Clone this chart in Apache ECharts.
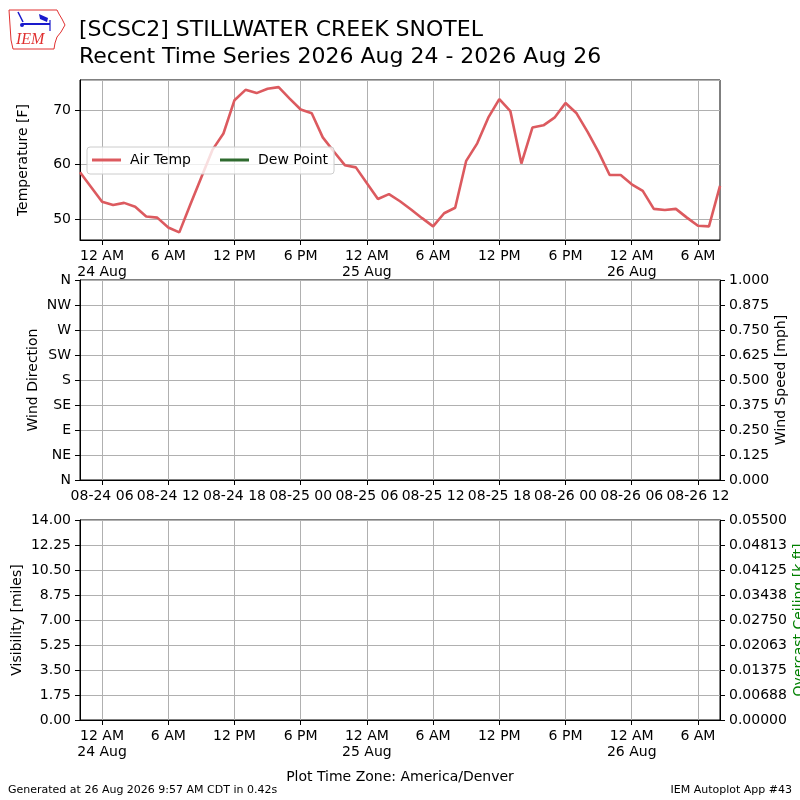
<!DOCTYPE html>
<html><head><meta charset="utf-8">
<script src="https://cdn.jsdelivr.net/npm/echarts@6/dist/echarts.min.js"></script>
<style>html,body{margin:0;padding:0;background:#fff}#c{width:800px;height:800px}</style>
</head><body><div id="c"></div>
<script>
// ---- data ----
// hourly observation times (local, America/Denver), 2026-08-23 22:00 .. 2026-08-26 08:00
const startTime = Date.UTC(2026, 7, 23, 22);
const hourCount = 59;
const times = [];
for (let i = 0; i < hourCount; i++) {
  const d = new Date(startTime + i * 3600e3);
  const p = n => String(n).padStart(2, '0');
  times.push(d.getUTCFullYear() + '-' + p(d.getUTCMonth() + 1) + '-' + p(d.getUTCDate()) + ' ' + p(d.getUTCHours()) + ':00');
}
const airTemp = [
  58.6, 55.9,
  53.2, 52.6, 53.0, 52.3, 50.5, 50.3, 48.5, 47.6, 52.7, 57.7, 62.7, 65.7,
  71.8, 73.7, 73.1, 73.9, 74.2, 72.1, 70.1, 69.4, 65.0, 62.4, 59.9, 59.5,
  56.6, 53.7, 54.6, 53.3, 51.8, 50.2, 48.7, 51.1, 52.1, 60.7, 63.9, 68.6,
  72.0, 69.8, 60.2, 66.8, 67.2, 68.6, 71.3, 69.4, 66.0, 62.3, 58.1, 58.1,
  56.4, 55.2, 51.9, 51.7, 51.9, 50.3, 48.8, 48.7, 56.1
];
const dewPoint = [];
const windDirLabels = ['N', 'NE', 'E', 'SE', 'S', 'SW', 'W', 'NW', 'N'];

// ---- helpers ----
const FONT = 'DejaVu Sans';
const hourOf = v => +v.slice(11, 13);
const every6 = (idx, v) => hourOf(v) % 6 === 0;
function localFmt(v) {
  const h = hourOf(v), d = +v.slice(8, 10);
  if (h === 0) return '12 AM\n' + d + ' Aug';
  if (h === 6) return '6 AM';
  if (h === 12) return '12 PM';
  if (h === 18) return '6 PM';
  return '';
}
function utcFmt(v) {
  const t = Date.UTC(+v.slice(0, 4), +v.slice(5, 7) - 1, +v.slice(8, 10), hourOf(v) + 6);
  const d = new Date(t);
  const p = n => String(n).padStart(2, '0');
  return p(d.getUTCMonth() + 1) + '-' + p(d.getUTCDate()) + ' ' + p(d.getUTCHours());
}
const gridLine = { show: true, interval: every6, lineStyle: { color: '#b0b0b0', width: 1 } };
const ySplit = { show: true, lineStyle: { color: '#b0b0b0', width: 1 } };
const axLine = { show: true, lineStyle: { color: '#000', width: 1 } };
const tick = { show: true, length: 5, lineStyle: { color: '#000', width: 1 } };
const lbl = { color: '#000', fontSize: 14, fontFamily: FONT };

function xAxis(gi, fmt) {
  return {
    type: 'category', gridIndex: gi, data: times, boundaryGap: false,
    axisLine: axLine,
    axisTick: Object.assign({ interval: every6 }, tick),
    axisLabel: Object.assign({ interval: every6, formatter: fmt, margin: 8, lineHeight: 16 }, lbl),
    splitLine: gridLine
  };
}
function yName(name, gap, color) {
  return {
    name: name, nameLocation: 'middle', nameGap: gap, nameRotate: 90, nameMoveOverlap: false,
    nameTextStyle: { color: color || '#000', fontSize: 14, fontFamily: FONT }
  };
}

const chart = echarts.init(document.getElementById('c'));
const gridBase = { left: 80, right: 80, show: true, borderColor: '#000', borderWidth: 1, backgroundColor: 'transparent', containLabel: false, outerBoundsMode: 'none' };

chart.setOption({
  animation: false,
  textStyle: { fontFamily: FONT },
  title: [
    { text: '[SCSC2] STILLWATER CREEK SNOTEL\nRecent Time Series 2026 Aug 24 - 2026 Aug 26',
      left: 74, top: 12, textStyle: { fontSize: 22, fontWeight: 'normal', color: '#000', lineHeight: 27, fontFamily: FONT } },
    { text: 'Plot Time Zone: America/Denver', left: 'center', top: 765,
      textStyle: { fontSize: 14, fontWeight: 'normal', color: '#000', fontFamily: FONT } },
    { text: 'Generated at 26 Aug 2026 9:57 AM CDT in 0.42s', left: 3, top: 780,
      textStyle: { fontSize: 11, fontWeight: 'normal', color: '#000', fontFamily: FONT } },
    { text: 'IEM Autoplot App #43', right: 3, top: 780,
      textStyle: { fontSize: 11, fontWeight: 'normal', color: '#000', fontFamily: FONT } }
  ],
  legend: {
    left: 87, top: 147, padding: [6, 6, 7, 5], itemWidth: 29, itemHeight: 3, itemGap: 29, icon: 'rect',
    backgroundColor: 'rgba(255,255,255,0.8)', borderColor: '#cccccc', borderWidth: 1, borderRadius: 3,
    textStyle: { fontSize: 14, color: '#000', fontFamily: FONT, padding: [0, 0, 0, 4], lineHeight: 14 },
    data: ['Air Temp', 'Dew Point']
  },
  grid: [
    Object.assign({ top: 80, height: 160 }, gridBase),
    Object.assign({ top: 280, height: 200 }, gridBase),
    Object.assign({ top: 520, height: 200 }, gridBase)
  ],
  xAxis: [xAxis(0, localFmt), xAxis(1, utcFmt), xAxis(2, localFmt)],
  yAxis: [
    Object.assign({
      type: 'value', gridIndex: 0, min: 46.2, max: 75.5, splitNumber: 3,
      axisLine: axLine, axisTick: tick,
      axisLabel: Object.assign({ margin: 9, showMinLabel: false, showMaxLabel: false }, lbl),
      splitLine: ySplit
    }, yName('Temperature [F]', 50)),
    Object.assign({
      type: 'value', gridIndex: 1, min: 0, max: 360, interval: 45,
      axisLine: axLine, axisTick: tick,
      axisLabel: Object.assign({ margin: 9, formatter: v => windDirLabels[Math.round(v / 45)] }, lbl),
      splitLine: ySplit
    }, yName('Wind Direction', 40)),
    Object.assign({
      type: 'value', gridIndex: 1, min: 0, max: 1, interval: 0.125, position: 'right',
      axisLine: axLine, axisTick: tick,
      axisLabel: Object.assign({ margin: 9, formatter: v => v.toFixed(3) }, lbl),
      splitLine: { show: false }
    }, yName('Wind Speed [mph]', 54)),
    Object.assign({
      type: 'value', gridIndex: 2, min: 0, max: 14, interval: 1.75,
      axisLine: axLine, axisTick: tick,
      axisLabel: Object.assign({ margin: 9, formatter: v => v.toFixed(2) }, lbl),
      splitLine: ySplit
    }, yName('Visibility [miles]', 56)),
    Object.assign({
      type: 'value', gridIndex: 2, min: 0, max: 0.055, interval: 0.006875, position: 'right',
      axisLine: axLine, axisTick: tick,
      axisLabel: Object.assign({ margin: 9, formatter: v => (v + 1e-10).toFixed(5) }, lbl),
      splitLine: { show: false }
    }, yName('Overcast Ceiling [k ft]', 72, '#008000'))
  ],
  series: [
    { name: 'Air Temp', type: 'line', xAxisIndex: 0, yAxisIndex: 0, data: airTemp,
      symbol: 'none', color: '#dc5a5f', lineStyle: { color: '#dc5a5f', width: 2.6 } },
    { name: 'Dew Point', type: 'line', xAxisIndex: 0, yAxisIndex: 0, data: dewPoint,
      symbol: 'none', color: '#2f6b2f', lineStyle: { color: '#2f6b2f', width: 2.6 } }
  ],
  graphic: [
    { type: 'polyline', shape: { points: [[9,10],[57,10],[59,14],[62,19],[65,25],[61,32],[57,37],[55,43],[54,49],[13,49],[11,40],[10,25],[9,10]] },
      style: { stroke: '#e03030', lineWidth: 1, fill: 'none' } },
    { type: 'line', shape: { x1: 22, y1: 24, x2: 50, y2: 24 }, style: { stroke: '#1a1acc', lineWidth: 2 } },
    { type: 'line', shape: { x1: 18, y1: 12, x2: 23, y2: 22 }, style: { stroke: '#1a1acc', lineWidth: 1.5 } },
    { type: 'polygon', shape: { points: [[39,14],[48,18],[47,22],[40,19]] }, style: { fill: '#1a1acc' } },
    { type: 'line', shape: { x1: 50, y1: 20, x2: 50, y2: 31 }, style: { stroke: '#1a1acc', lineWidth: 1.2 } },
    { type: 'circle', shape: { cx: 22, cy: 25, r: 2 }, style: { fill: '#1a1acc' } },
    { type: 'text', left: 16, top: 32, style: { text: 'IEM', fill: '#e03030', font: 'italic 16px "Liberation Serif"' } }
  ]
});
</script>
</body></html>
